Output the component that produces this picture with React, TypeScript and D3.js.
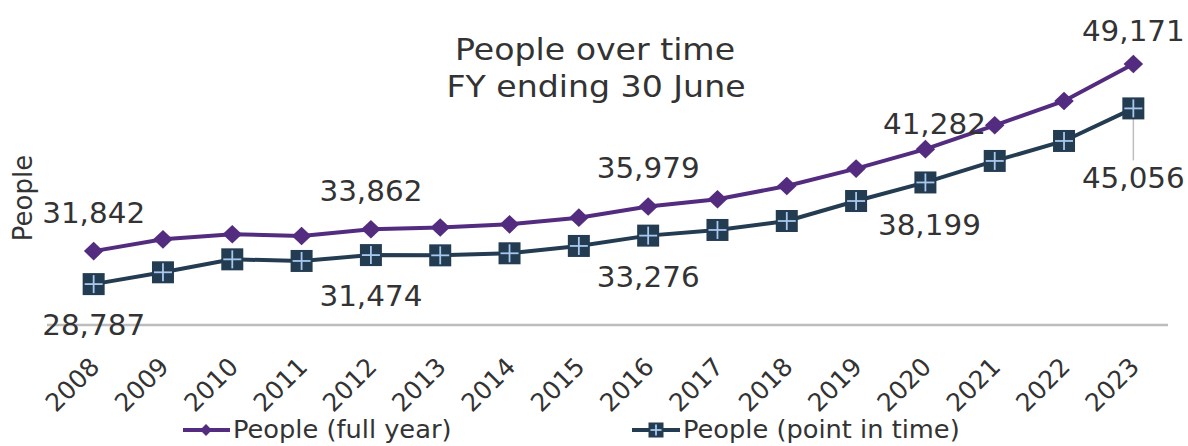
import { useEffect, useRef } from "react";
import * as d3 from "d3";

// data
const years = [
  "2008", "2009", "2010", "2011", "2012", "2013", "2014", "2015",
  "2016", "2017", "2018", "2019", "2020", "2021", "2022", "2023",
];
const fullYear = [
  31842, 32930, 33400, 33240, 33862, 34020, 34320, 34940,
  35979, 36640, 37870, 39480, 41282, 43490, 45740, 49171,
];
const pointInTime = [
  28787, 29880, 31080, 30930, 31474, 31450, 31640, 32320,
  33276, 33800, 34630, 36480, 38199, 40190, 42040, 45056,
];
const labelledYears = ["2008", "2012", "2016", "2020", "2023"];
const seriesNames = ["People (full year)", "People (point in time)"];
const titleLines = ["People over time", "FY ending 30 June"];
const yDomain = [25000, 50000];

const PURPLE = "#532C80";
const NAVY = "#243C52";
const CROSS = "#A9C8EE";
const TEXT = "#333333";
const FONT = "Verdana, 'DejaVu Sans', sans-serif";
const SX = 1.07; // the picture is slightly wider than tall

const App = () => {
  const ref = useRef(null);

  useEffect(() => {
    const width = 1188;
    const height = 446;
    const left = 59;
    const right = 1168;
    const bottom = 325;
    const top = 55;

    const root = d3.select(ref.current);
    root.selectAll("*").remove();
    const svg = root
      .append("svg")
      .attr("width", width)
      .attr("height", height)
      .style("position", "absolute")
      .style("left", 0)
      .style("top", 0)
      .style("background", "#fff");

    const x = d3.scaleBand().domain(years).range([left, right]).paddingInner(0);
    const cx = (yr) => x(yr) + x.bandwidth() / 2;
    const y = d3.scaleLinear().domain(yDomain).range([bottom, top]);

    // stretched text helper
    const txt = (g, px, py, s, size, anchor = "middle", rot = 0) =>
      g
        .append("text")
        .attr("transform", `translate(${px},${py}) rotate(${rot}) scale(${rot ? 1 : SX},1)`)
        .attr("text-anchor", anchor)
        .attr("font-family", FONT)
        .attr("font-size", size)
        .attr("fill", TEXT)
        .text(s);

    // axis line
    svg
      .append("line")
      .attr("x1", left - 12)
      .attr("x2", right)
      .attr("y1", bottom)
      .attr("y2", bottom)
      .attr("stroke", "#BDBDBD")
      .attr("stroke-width", 2.5);

    // x tick labels (rotated)
    const xt = svg.append("g");
    years.forEach((yr) => {
      txt(xt, cx(yr) - 5, 356, yr, 25, "end", -45).attr("dy", "0.7em");
    });

    // title
    txt(svg, 595, 60, titleLines[0], 31);
    txt(svg, 596, 97, titleLines[1], 31);

    // y axis title
    svg
      .append("text")
      .attr("transform", `translate(32,198) rotate(-90)`)
      .attr("text-anchor", "middle")
      .attr("font-family", FONT)
      .attr("font-size", 26)
      .attr("fill", TEXT)
      .text("People");

    const line = d3
      .line()
      .x((d) => cx(d[0]))
      .y((d) => y(d[1]));

    const fullPts = years.map((yr, i) => [yr, fullYear[i]]);
    const pitPts = years.map((yr, i) => [yr, pointInTime[i]]);

    // leader line for last point-in-time label
    svg
      .append("line")
      .attr("x1", cx("2023"))
      .attr("x2", cx("2023"))
      .attr("y1", y(pointInTime[15]) + 10)
      .attr("y2", y(pointInTime[15]) + 52)
      .attr("stroke", "#BFBFBF")
      .attr("stroke-width", 1.5);

    // point in time series
    svg
      .append("path")
      .attr("d", line(pitPts))
      .attr("fill", "none")
      .attr("stroke", NAVY)
      .attr("stroke-width", 4);

    const drawSquare = (g, px, py, s) => {
      g.append("rect")
        .attr("x", px - s / 2)
        .attr("y", py - s / 2)
        .attr("width", s)
        .attr("height", s)
        .attr("fill", NAVY);
      g.append("line")
        .attr("x1", px - s / 2 + 2)
        .attr("x2", px + s / 2 - 2)
        .attr("y1", py)
        .attr("y2", py)
        .attr("stroke", CROSS)
        .attr("stroke-width", 1.8);
      g.append("line")
        .attr("x1", px)
        .attr("x2", px)
        .attr("y1", py - s / 2 + 2)
        .attr("y2", py + s / 2 - 2)
        .attr("stroke", CROSS)
        .attr("stroke-width", 1.8);
    };

    const sq = svg.append("g");
    pitPts.forEach((d) => drawSquare(sq, cx(d[0]), y(d[1]), 22));

    // full year series
    svg
      .append("path")
      .attr("d", line(fullPts))
      .attr("fill", "none")
      .attr("stroke", PURPLE)
      .attr("stroke-width", 4);

    const diamond = d3.symbol().type(d3.symbolDiamond2).size(220);
    svg
      .append("g")
      .selectAll("path")
      .data(fullPts)
      .join("path")
      .attr("transform", (d) => `translate(${cx(d[0])},${y(d[1])}) scale(1.05,1)`)
      .attr("d", diamond)
      .attr("fill", PURPLE);

    // data labels
    const fmt = d3.format(",");
    const lab = svg.append("g");
    labelledYears.forEach((yr) => {
      const i = years.indexOf(yr);
      let dxA = 0;
      let dyA = -28;
      if (yr === "2020") {
        dxA = 9;
        dyA = -15;
      }
      if (yr === "2023") dyA = -23;
      txt(lab, cx(yr) + dxA, y(fullYear[i]) + dyA, fmt(fullYear[i]), 27.5);

      let dxB = 0;
      let dyB = 51;
      if (yr === "2020") {
        dxB = 4;
        dyB = 53;
      }
      if (yr === "2023") dyB = 80;
      txt(lab, cx(yr) + dxB, y(pointInTime[i]) + dyB, fmt(pointInTime[i]), 27.5);
    });

    // legend
    const lg = svg.append("g");
    const ly = 430;
    lg.append("line")
      .attr("x1", 183)
      .attr("x2", 230)
      .attr("y1", ly)
      .attr("y2", ly)
      .attr("stroke", PURPLE)
      .attr("stroke-width", 4);
    lg.append("path")
      .attr("transform", `translate(206,${ly})`)
      .attr("d", d3.symbol().type(d3.symbolDiamond2).size(90))
      .attr("fill", PURPLE);
    txt(lg, 233, 438, seriesNames[0], 24, "start");

    lg.append("line")
      .attr("x1", 632)
      .attr("x2", 680)
      .attr("y1", ly)
      .attr("y2", ly)
      .attr("stroke", NAVY)
      .attr("stroke-width", 4);
    drawSquare(lg, 656, ly, 15);
    txt(lg, 683, 438, seriesNames[1], 24, "start");
  }, []);

  return <div ref={ref} />;
};

export default App;
